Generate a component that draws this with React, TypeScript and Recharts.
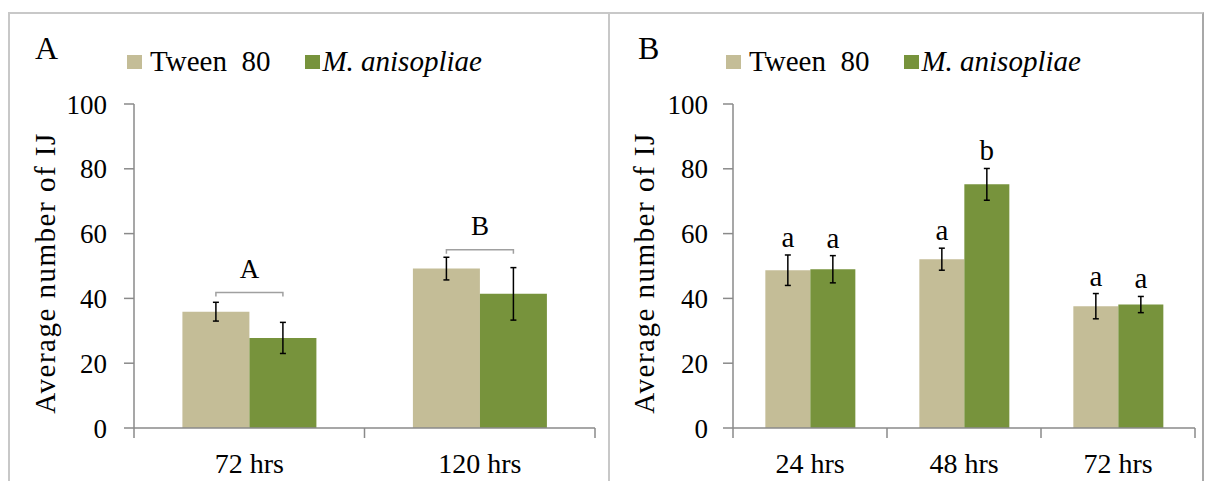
import { BarChart, Bar, XAxis, YAxis, ErrorBar } from 'recharts'

const SERIF = '"Liberation Serif", "Times New Roman", serif'
const TAN = '#C4BD97'
const OLIVE = '#77933C'
const AXIS = '#8A8A8A'

// panel A
const categoriesA = ['72 hrs', '120 hrs']
const tweenA = [35.9, 49.2]
const tweenErrA = [2.9, 3.5]
const greenA = [27.8, 41.4]
const greenErrA = [4.8, 8.1]
const bracketLevelA = [41.8, 55.0]
const groupLettersA = ['A', 'B']

// panel B
const categoriesB = ['24 hrs', '48 hrs', '72 hrs']
const tweenB = [48.7, 52.1, 37.6]
const tweenErrB = [4.7, 3.4, 3.9]
const greenB = [49.0, 75.2, 38.1]
const greenErrB = [4.2, 4.9, 2.5]
const lettersTweenB = ['a', 'a', 'a']
const lettersGreenB = ['a', 'b', 'a']

const yTicks = [0, 20, 40, 60, 80, 100]

const toRows = (cats: string[], t: number[], te: number[], g: number[], ge: number[]) =>
  cats.map((c, i) => ({ name: c, tween: t[i], tweenErr: te[i], green: g[i], greenErr: ge[i] }))

// category label + Excel-style tick marks between categories
const XTick = (props: any) => {
  const { x, y, payload, index, visibleTicksCount, width } = props
  const half = payload?.offset ? payload.offset : width / visibleTicksCount / 2
  const axisY = y - 10
  return (
    <g>
      <line x1={x - half} y1={axisY} x2={x - half} y2={axisY + 10} stroke={AXIS} strokeWidth={1.5} />
      {index === visibleTicksCount - 1 && (
        <line x1={x + half} y1={axisY} x2={x + half} y2={axisY + 10} stroke={AXIS} strokeWidth={1.5} />
      )}
      <text x={x} y={axisY + 45} textAnchor="middle" fontSize={28} fontFamily={SERIF} fill="#000">
        {payload.value}
      </text>
    </g>
  )
}

const yLabel = (props: any) => {
  const vb = props.viewBox || props
  const cx = vb.x + vb.width / 2
  const cy = vb.y + vb.height / 2 + 7
  return (
    <text
      x={cx}
      y={cy}
      transform={`rotate(-90, ${cx}, ${cy})`}
      textAnchor="middle"
      dominantBaseline="central"
      fontSize={29}
      letterSpacing={1.5}
      fontFamily={SERIF}
      fill="#000"
    >
      Average number of IJ
    </text>
  )
}

// bracket + group letter above each pair (panel A)
const bracketLabel = (p: any) => {
  const { x, y, width, height, value, index } = p
  const ppu = height / value
  const by = y + height - bracketLevelA[index] * ppu
  const x1 = x + width / 2
  const x2 = x + width * 1.5
  return (
    <g>
      <path d={`M${x1},${by + 4}V${by}H${x2}V${by + 4}`} stroke="#A0A0A0" strokeWidth={1.5} fill="none" />
      <text x={(x1 + x2) / 2} y={by - 15} textAnchor="middle" fontSize={27} fontFamily={SERIF} fill="#000">
        {groupLettersA[index]}
      </text>
    </g>
  )
}

const sigLabel = (errs: number[], letters: string[]) => (p: any) => {
  const { x, y, width, height, value, index } = p
  const ppu = height / value
  const top = y - errs[index] * ppu
  return (
    <text x={x + width / 2} y={top - 8} textAnchor="middle" fontSize={29} fontFamily={SERIF} fill="#000">
      {letters[index]}
    </text>
  )
}

interface PanelProps {
  left: number
  width: number
  title: string
  titleLeft: number
  data: any[]
  marginLeft: number
  marginRight: number
  tickMargin: number
  tweenLabel: any
  greenLabel?: any
}

function Panel({ left, width, title, titleLeft, data, marginLeft, marginRight, tickMargin, tweenLabel, greenLabel }: PanelProps) {
  const axisX = left + marginLeft + 178
  return (
    <>
      <div style={{ position: 'absolute', left: titleLeft, top: 32, fontSize: 32, lineHeight: 1, fontFamily: SERIF }}>
        {title}
      </div>
      <div
        style={{
          position: 'absolute', left: axisX - 7, top: 47, display: 'flex', alignItems: 'center',
          fontSize: 29, lineHeight: 1, fontFamily: SERIF, whiteSpace: 'pre',
        }}
      >
        <span style={{ width: 15, height: 14, background: TAN, marginRight: 8 }} />
        <span>Tween  80</span>
        <span style={{ width: 15, height: 14, background: OLIVE, marginLeft: 35, marginRight: 2 }} />
        <span style={{ fontStyle: 'italic' }}>M. anisopliae</span>
      </div>
      <div style={{ position: 'absolute', left, top: 0 }}>
        <BarChart
          width={width}
          height={481}
          data={data}
          margin={{ top: 104, right: marginRight, bottom: 0, left: marginLeft }}
          barCategoryGap="21%"
          barGap={0}
          style={{ fontFamily: SERIF }}
        >
          <XAxis
            dataKey="name"
            height={53}
            tickLine={false}
            tickSize={10}
            tickMargin={0}
            axisLine={{ stroke: AXIS, strokeWidth: 1.5 }}
            tick={<XTick />}
            interval={0}
          />
          <YAxis
            width={178}
            domain={[0, 100]}
            ticks={yTicks}
            tickSize={10}
            tickMargin={tickMargin}
            axisLine={{ stroke: AXIS, strokeWidth: 1.5 }}
            tickLine={{ stroke: AXIS, strokeWidth: 1.5 }}
            tick={{ fontSize: 27, fill: '#000', fontFamily: SERIF }}
            label={yLabel}
          />
          <Bar dataKey="tween" fill={TAN} isAnimationActive={false} label={tweenLabel}>
            <ErrorBar dataKey="tweenErr" width={3} stroke="#000" strokeWidth={1.5} />
          </Bar>
          <Bar dataKey="green" fill={OLIVE} isAnimationActive={false} label={greenLabel}>
            <ErrorBar dataKey="greenErr" width={3} stroke="#000" strokeWidth={1.5} />
          </Bar>
        </BarChart>
      </div>
    </>
  )
}

export default function App() {
  const dataA = toRows(categoriesA, tweenA, tweenErrA, greenA, greenErrA)
  const dataB = toRows(categoriesB, tweenB, tweenErrB, greenB, greenErrB)
  return (
    <div style={{ position: 'fixed', left: 0, top: 0, width: 1214, height: 481, overflow: 'hidden', background: '#fff' }}>
      <div
        style={{
          position: 'absolute', left: 8, top: 12, width: 1196, height: 520,
          borderTop: '2px solid #C8C8C8', borderLeft: '2px solid #C8C8C8', borderRight: '2px solid #A8A8A8',
          boxSizing: 'border-box',
        }}
      />
      <div style={{ position: 'absolute', left: 608, top: 12, width: 2, height: 480, background: '#C8C8C8' }} />
      <Panel
        left={0}
        width={609}
        title="A"
        titleLeft={35}
        data={dataA}
        marginLeft={-44}
        marginRight={14}
        tickMargin={17}
        tweenLabel={bracketLabel}
      />
      <Panel
        left={609}
        width={605}
        title="B"
        titleLeft={638}
        data={dataB}
        marginLeft={-54}
        marginRight={19}
        tickMargin={15}
        tweenLabel={sigLabel(tweenErrB, lettersTweenB)}
        greenLabel={sigLabel(greenErrB, lettersGreenB)}
      />
    </div>
  )
}
